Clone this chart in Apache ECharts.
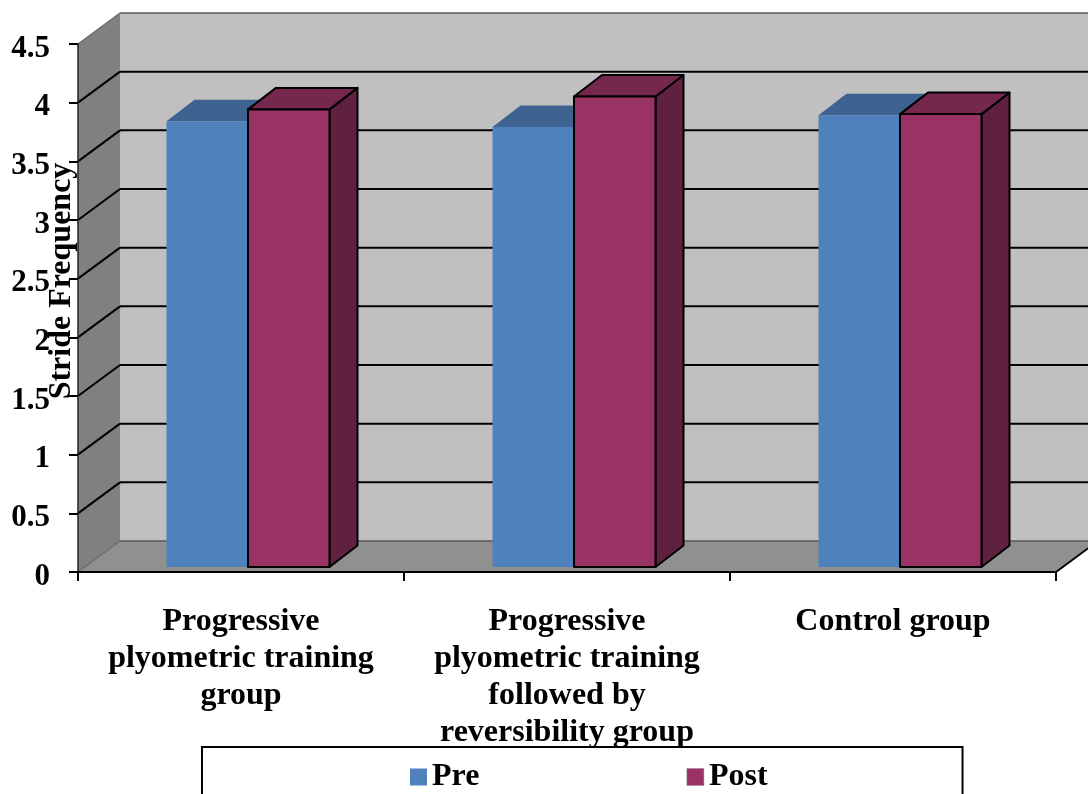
<!DOCTYPE html>
<html>
<head>
<meta charset="utf-8">
<style>html,body{margin:0;padding:0;background:#fff;overflow:hidden}#c{width:1088px;height:794px}</style>
<script src="https://cdn.jsdelivr.net/npm/echarts@6/dist/echarts.min.js"></script>
</head>
<body>
<div id="c"></div>
<script>
var categories = [
  'Progressive\nplyometric training\ngroup',
  'Progressive\nplyometric training\nfollowed by\nreversibility group',
  'Control group'
];
var preValues = [3.8, 3.75, 3.85];
var postValues = [3.9, 4.01, 3.86];
var yTicks = [0, 0.5, 1, 1.5, 2, 2.5, 3, 3.5, 4, 4.5];

var FONT = '"Liberation Serif", "Times New Roman", serif';
var WALL_DX = 42, WALL_DY = -31;
var BAR_SHIFT_X = 7, BAR_SHIFT_Y = -5, BAR_W = 81.5, BAR_DX = 28, BAR_DY = -21.5;

function poly(points, fill, stroke, lw) {
  return {
    type: 'polygon',
    shape: { points: points },
    style: { fill: fill, stroke: stroke || null, lineWidth: lw || 0, lineJoin: 'round' }
  };
}
function line(x1, y1, x2, y2, color, lw) {
  return {
    type: 'line',
    shape: { x1: x1, y1: y1, x2: x2, y2: y2 },
    style: { stroke: color, lineWidth: lw, fill: null }
  };
}

function renderWalls(params, api) {
  var cs = params.coordSys;
  var L = cs.x, R = cs.x + cs.width, T = cs.y, B = cs.y + cs.height;
  var dx = WALL_DX, dy = WALL_DY;
  var kids = [
    poly([[L + dx, T + dy], [R + dx, T + dy], [R + dx, B + dy], [L + dx, B + dy]], '#c0c0c0'),
    poly([[L, T], [L + dx, T + dy], [L + dx, B + dy], [L, B]], '#808080'),
    poly([[L, B], [L + dx, B + dy], [R + dx, B + dy], [R, B]], '#909090')
  ];
  yTicks.forEach(function (t) {
    var y = api.coord([0, t])[1];
    var isEdge = t === 0 || t === yTicks[yTicks.length - 1];
    var c = isEdge ? '#5a5a5a' : '#000';
    kids.push(line(L, y, L + dx, y + dy, isEdge ? '#6a6a6a' : '#000', isEdge ? 1.2 : 2));
    kids.push(line(L + dx, y + dy, R + dx, y + dy, c, isEdge ? 1.5 : 2));
  });
  kids.push(line(R, B, R + dx, B + dy, '#000', 2));
  return { type: 'group', children: kids };
}

function barRenderer(offset, colors, outlined) {
  return function (params, api) {
    var cat = api.value(0);
    var base = api.coord([cat, 0]);
    var top = api.coord([cat, api.value(1)]);
    var x0 = base[0] + BAR_SHIFT_X + offset;
    var x1 = x0 + BAR_W;
    var yb = base[1] + BAR_SHIFT_Y;
    var yt = top[1] + BAR_SHIFT_Y;
    var s = outlined ? '#000' : null;
    var w = outlined ? 2 : 0;
    return {
      type: 'group',
      children: [
        poly([[x1, yt], [x1 + BAR_DX, yt + BAR_DY], [x1 + BAR_DX, yb + BAR_DY], [x1, yb]], colors[2], s, w),
        poly([[x0, yt], [x0 + BAR_DX, yt + BAR_DY], [x1 + BAR_DX, yt + BAR_DY], [x1, yt]], colors[1], s, w),
        poly([[x0, yt], [x1, yt], [x1, yb], [x0, yb]], colors[0], s, w)
      ]
    };
  };
}

var chart = echarts.init(document.getElementById('c'), null, { renderer: 'canvas' });
chart.setOption({
  animation: false,
  backgroundColor: '#fff',
  textStyle: { fontFamily: FONT },
  grid: { left: 78, top: 44, width: 978, height: 528, containLabel: false, outerBoundsMode: 'none' },
  legend: {
    left: 202,
    top: 747,
    orient: 'horizontal',
    icon: 'rect',
    data: [
      { name: 'Pre', itemStyle: { color: '#4f81bd' } },
      { name: 'Post', itemStyle: { color: '#983363', borderColor: '#888', borderWidth: 1, borderType: 'dotted' } }
    ],
    itemWidth: 17,
    itemHeight: 17,
    itemGap: 207,
    padding: [14, 195, 60, 208],
    borderColor: '#000',
    borderWidth: 2,
    backgroundColor: '#fff',
    selectedMode: false,
    textStyle: { fontFamily: FONT, fontWeight: 'bold', fontSize: 32, color: '#000' }
  },
  xAxis: {
    type: 'category',
    z: 10,
    data: categories,
    axisLine: { show: true, lineStyle: { color: '#000', width: 2 } },
    axisTick: { show: true, alignWithLabel: false, length: 9, lineStyle: { color: '#000', width: 2 } },
    axisLabel: {
      interval: 0, margin: 31, lineHeight: 37,
      fontFamily: FONT, fontWeight: 'bold', fontSize: 32, color: '#000'
    },
    splitLine: { show: false }
  },
  yAxis: {
    type: 'value', min: 0, max: 4.5, interval: 0.5,
    z: 10,
    name: 'Stride Frequency',
    nameLocation: 'middle',
    nameRotate: 90,
    nameGap: 0,
    nameMoveOverlap: false,
    nameTextStyle: { fontFamily: FONT, fontWeight: 'bold', fontSize: 32, color: '#000', padding: [0, 0, 0, 54] },
    axisLine: { show: true, lineStyle: { color: '#222', width: 1.5 } },
    axisTick: { show: true, length: 9, lineStyle: { color: '#000', width: 2 } },
    axisLabel: {
      margin: 28, color: '#000',
      formatter: function (v) { return '{v|' + v + '}'; },
      rich: { v: { fontFamily: FONT, fontWeight: 'bold', fontSize: 31, color: '#000', padding: [9, 0, 0, 0] } }
    },
    splitLine: { show: false }
  },
  series: [
    {
      name: 'walls', type: 'custom', silent: true, z: 1,
      coordinateSystem: 'cartesian2d',
      data: [[0, 0]],
      renderItem: renderWalls
    },
    {
      name: 'Pre', type: 'custom', z: 3,
      coordinateSystem: 'cartesian2d',
      itemStyle: { color: '#4f81bd' },
      encode: { x: 0, y: 1 },
      data: preValues.map(function (v, i) { return [i, v]; }),
      renderItem: barRenderer(-BAR_W, ['#4f81bd', '#3e6391', '#3e6391'], false)
    },
    {
      name: 'Post', type: 'custom', z: 4,
      coordinateSystem: 'cartesian2d',
      itemStyle: { color: '#983363' },
      encode: { x: 0, y: 1 },
      data: postValues.map(function (v, i) { return [i, v]; }),
      renderItem: barRenderer(0, ['#983363', '#75274d', '#602040'], true)
    }
  ]
});
</script>
</body>
</html>
